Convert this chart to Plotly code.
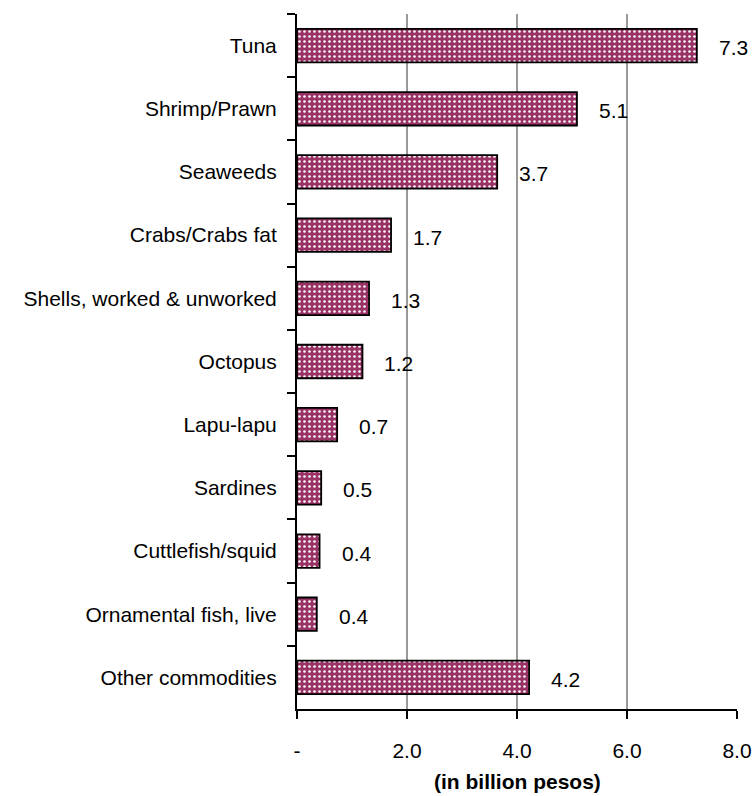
import plotly.graph_objects as go

categories = ["Tuna", "Shrimp/Prawn", "Seaweeds", "Crabs/Crabs fat",
              "Shells, worked & unworked", "Octopus", "Lapu-lapu", "Sardines",
              "Cuttlefish/squid", "Ornamental fish, live", "Other commodities"]
values = [7.27, 5.09, 3.64, 1.71, 1.31, 1.19, 0.73, 0.44, 0.41, 0.36, 4.22]
value_labels = ["7.3", "5.1", "3.7", "1.7", "1.3", "1.2", "0.7", "0.5", "0.4", "0.4", "4.2"]
x_tickvals = [0, 2, 4, 6, 8]
x_ticktext = ["-", "2.0", "4.0", "6.0", "8.0"]
x_title = "(in billion pesos)"

FONT = "Liberation Sans, Arial, sans-serif"
FS = 21

fig = go.Figure()
fig.add_trace(go.Bar(
    x=values, y=categories, orientation="h",
    marker=dict(
        color="#993366",
        line=dict(color="black", width=1.8),
        pattern=dict(shape=".", fgcolor="white", bgcolor="#993366",
                     size=5, solidity=0.2, fillmode="replace"),
    ),
    hoverinfo="skip",
))

for c, v, t in zip(categories, values, value_labels):
    fig.add_annotation(x=v, y=c, text=t, showarrow=False, xanchor="left",
                       xshift=20, yshift=-2,
                       font=dict(family=FONT, size=FS, color="black"))

fig.add_annotation(x=0.5, xref="paper", y=-0.105, yref="paper", text="<b>" + x_title + "</b>",
                   showarrow=False, xanchor="center", yanchor="middle",
                   font=dict(family=FONT, size=FS, color="black"))

fig.update_layout(
    width=755, height=796,
    margin=dict(l=297, r=18, t=14, b=87, autoexpand=False),
    paper_bgcolor="white", plot_bgcolor="white",
    bargap=0.47,
    showlegend=False,
    font=dict(family=FONT, size=FS, color="black"),
)
fig.update_xaxes(
    range=[0, 8], tickvals=x_tickvals, ticktext=x_ticktext,
    showgrid=True, gridcolor="#999999", gridwidth=1.5,
    showline=True, linecolor="black", linewidth=2,
    ticks="outside", ticklen=8, tickwidth=2, tickcolor="black",
    ticklabelstandoff=14,
    zeroline=False, automargin=False,
    tickfont=dict(family=FONT, size=FS, color="black"),
)
fig.update_yaxes(
    categoryorder="array", categoryarray=categories, autorange="reversed",
    tickson="boundaries",
    showline=True, linecolor="black", linewidth=2,
    ticks="outside", ticklen=8, tickwidth=2, tickcolor="black",
    ticklabelstandoff=14, automargin=False,
    showgrid=False,
    tickfont=dict(family=FONT, size=FS, color="black"),
)

fig.write_html("out.html")
